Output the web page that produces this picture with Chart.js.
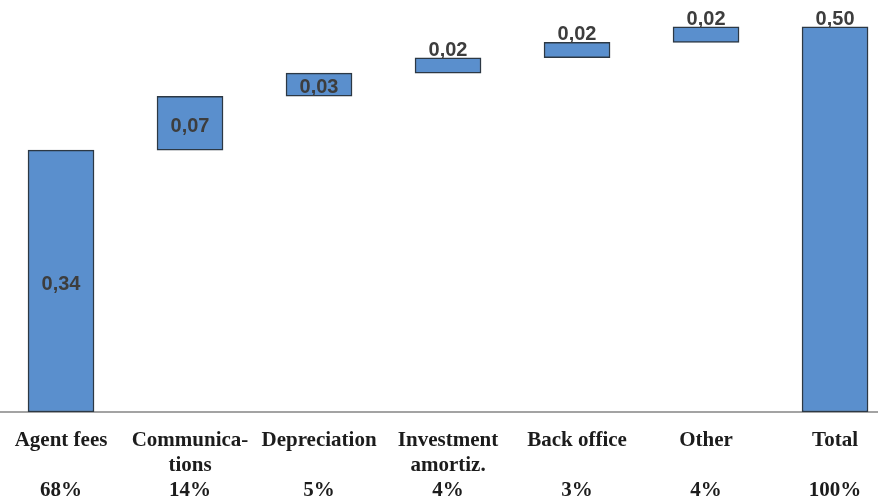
<!DOCTYPE html>
<html>
<head>
<meta charset="utf-8">
<script src="https://cdn.jsdelivr.net/npm/chart.js@4/dist/chart.umd.min.js"></script>
<style>
html,body{margin:0;padding:0;background:#fff;}
canvas{display:block;}
</style>
</head>
<body>
<canvas id="c" width="878" height="501"></canvas>
<script>
// ---- data ----
const categories = [
  ["Agent fees"],
  ["Communica-", "tions"],
  ["Depreciation"],
  ["Investment", "amortiz."],
  ["Back office"],
  ["Other"],
  ["Total"]
];
const shares = ["68%", "14%", "5%", "4%", "3%", "4%", "100%"];
const valueLabels = ["0,34", "0,07", "0,03", "0,02", "0,02", "0,02", "0,50"];
const barLow  = [0,    0.34, 0.41, 0.44, 0.46, 0.48, 0];
const barHigh = [0.34, 0.41, 0.44, 0.46, 0.48, 0.50, 0.50];

const points = barLow.map((lo, i) => ({ x: i, y: [lo, barHigh[i]] }));

const valueLabelPlugin = {
  id: 'valueLabels',
  afterDatasetsDraw(chart) {
    const ctx = chart.ctx;
    const meta = chart.getDatasetMeta(0);
    ctx.save();
    ctx.font = 'bold 20px "Liberation Sans", Arial, sans-serif';
    ctx.fillStyle = '#3d3d3d';
    ctx.textAlign = 'center';
    meta.data.forEach((bar, i) => {
      const top = Math.min(bar.y, bar.base);
      const bottom = Math.max(bar.y, bar.base);
      const h = bottom - top;
      if (h > 22 && i !== meta.data.length - 1) {
        ctx.textBaseline = 'middle';
        ctx.fillText(valueLabels[i], bar.x, (top + bottom) / 2 + 3);
      } else {
        ctx.textBaseline = 'alphabetic';
        ctx.fillText(valueLabels[i], bar.x, top - 2);
      }
    });
    ctx.restore();
  }
};

new Chart(document.getElementById('c'), {
  type: 'bar',
  data: {
    datasets: [{
      data: points,
      backgroundColor: '#5a8fcd',
      borderColor: '#2c3844',
      borderWidth: 1.5,
      borderSkipped: false,
      barThickness: 66
    }]
  },
  options: {
    responsive: false,
    animation: false,
    plugins: { legend: { display: false }, tooltip: { enabled: false } },
    layout: { padding: 0 },
    scales: {
      x: {
        type: 'linear',
        offset: false,
        min: -0.473,
        max: 6.333,
        grid: { display: false, offset: false, drawTicks: false, tickLength: 0 },
        border: { display: true, color: '#a3a3a3', width: 2 },
        afterFit(scale) {
          scale.height = 89;
          scale.paddingLeft = 0;
          scale.paddingRight = 0;
        },
        ticks: {
          stepSize: 1,
          includeBounds: false,
          autoSkip: false,
          maxRotation: 0,
          padding: 16,
          color: '#1c1c1c',
          font: { family: '"Liberation Serif", "Times New Roman", serif', weight: 'bold', size: 21, lineHeight: 1.19 },
          callback(v) {
            if (!Number.isInteger(v) || v < 0 || v > 6) return '';
            const lines = categories[v].slice();
            while (lines.length < 2) lines.push('');
            lines.push(shares[v]);
            return lines;
          }
        }
      },
      y: {
        display: false,
        min: 0,
        max: 0.535
      }
    }
  },
  plugins: [valueLabelPlugin]
});
</script>
</body>
</html>
